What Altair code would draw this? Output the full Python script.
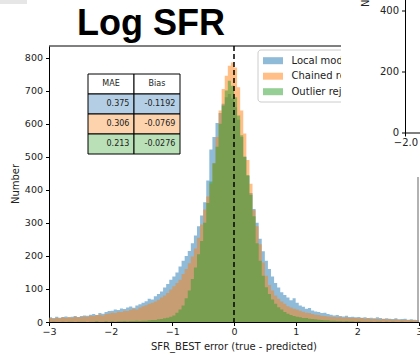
import altair as alt
import pandas as pd

# ---------------- data ----------------
BIN_START = -3.0
BIN_WIDTH = 0.05
series_names = ["Local model", "Chained regression", "Outlier rejection"]
series_colors = ["#1f77b4", "#ff7f0e", "#2ca02c"]

local_model = [
    14, 12, 16, 13, 15, 17, 14, 16, 18, 15,
    18, 20, 19, 22, 24, 21, 27, 25, 30, 33,
    34, 38, 36, 41, 39, 44, 47, 43, 50, 54,
    58, 63, 70, 68, 78, 85, 92, 104, 115, 128,
    138, 150, 168, 185, 200, 215, 238, 262, 290, 322,
    362, 428, 522, 560, 602, 632, 660, 680, 690, 676,
    650, 612, 560, 500, 442, 390, 342, 300, 252, 214,
    185, 160, 138, 118, 104, 90, 82, 74, 66, 72,
    58, 50, 46, 40, 42, 35, 32, 30, 27, 28,
    24, 22, 20, 21, 18, 17, 19, 15, 16, 14,
    15, 13, 14, 12, 13, 11, 14, 12, 10, 11,
    10, 9, 11, 8, 9, 10, 7, 8, 7, 6,
]
chained_regression = [
    12, 10, 13, 11, 14, 12, 15, 13, 16, 14,
    15, 17, 16, 19, 18, 21, 22, 20, 24, 26,
    28, 27, 31, 30, 34, 33, 37, 40, 38, 44,
    48, 51, 55, 58, 62, 67, 74, 80, 88, 98,
    108, 118, 128, 145, 160, 178, 198, 222, 255, 295,
    340, 380, 418, 480, 560, 640, 705, 745, 775, 785,
    770, 710, 640, 570, 490, 418, 338, 290, 235, 180,
    140, 112, 95, 80, 70, 62, 55, 48, 44, 40,
    38, 34, 31, 28, 27, 24, 22, 21, 19, 18,
    17, 16, 15, 14, 15, 13, 14, 12, 13, 12,
    11, 12, 10, 11, 9, 10, 9, 8, 9, 8,
    8, 7, 8, 7, 6, 7, 6, 6, 5, 5,
]
outlier_rejection = [
    0, 1, 0, 0, 1, 0, 1, 1, 0, 1,
    1, 1, 0, 1, 1, 2, 1, 1, 2, 1,
    2, 1, 2, 2, 3, 2, 3, 3, 4, 3,
    4, 4, 5, 6, 6, 8, 9, 11, 13, 16,
    20, 28, 38, 50, 72, 95, 130, 165, 205, 245,
    300, 360, 425, 480, 530, 600, 655, 700, 730, 715,
    680, 625, 565, 500, 445, 385, 320, 238, 185, 140,
    105, 85, 68, 55, 45, 38, 30, 25, 21, 18,
    16, 14, 12, 12, 10, 9, 8, 7, 6, 5,
    5, 4, 4, 3, 3, 2, 3, 2, 2, 1,
    2, 1, 1, 1, 1, 0, 1, 1, 0, 1,
    0, 1, 0, 0, 1, 0, 0, 1, 0, 0,
]

table_header = ["MAE", "Bias"]
table_mae = ["0.375", "0.306", "0.213"]
table_bias = ["-0.1192", "-0.0769", "-0.0276"]
table_colors = ["#b4cfe5", "#fdd3ae", "#b9e0b6"]

x_ticks = [-3, -2, -1, 0, 1, 2, 3]
y_ticks = [0, 100, 200, 300, 400, 500, 600, 700, 800]
title_text = "Log SFR"
x_title = "SFR_BEST error (true - predicted)"
y_title = "Number"
side_y_ticks = ["400", "200", "0"]
side_x_tick = "\u22122.0"

# ---------------- layout (absolute px) ----------------
L, T, W, H = 49, 46, 370, 276
ONE = pd.DataFrame({"k": [0]})
TICK_FONT = "DejaVu Sans"


def px(x):
    return x - L


def py(y):
    return y - T


def rect(x1, y1, x2, y2, **kw):
    return alt.Chart(ONE).mark_rect(**kw).encode(
        x=alt.value(px(x1)), x2=alt.value(px(x2)),
        y=alt.value(py(y1)), y2=alt.value(py(y2)))


def line(x1, y1, x2, y2, **kw):
    return alt.Chart(ONE).mark_rule(**kw).encode(
        x=alt.value(px(x1)), x2=alt.value(px(x2)),
        y=alt.value(py(y1)), y2=alt.value(py(y2)))


def label(s, x, y, **kw):
    kw.setdefault("font", TICK_FONT)
    return alt.Chart(ONE).mark_text(**kw).encode(
        x=alt.value(px(x)), y=alt.value(py(y)), text=alt.value(s))


# ---------------- histogram ----------------
rows = []
for name, counts in zip(series_names, [local_model, chained_regression, outlier_rejection]):
    for i, c in enumerate(counts):
        rows.append({"series": name, "x": round(BIN_START + i * BIN_WIDTH, 4), "count": c})
    rows.append({"series": name, "x": round(BIN_START + len(counts) * BIN_WIDTH, 4), "count": counts[-1]})
hist_df = pd.DataFrame(rows)

x_enc = alt.X("x:Q", scale=alt.Scale(domain=[-3, 3], nice=False, zero=False),
              axis=alt.Axis(values=x_ticks, format="d", title=None, labelFlush=False,
                            labelOverlap=False, tickSize=3.5, labelPadding=1))
y_enc = alt.Y("count:Q", stack=None, scale=alt.Scale(domain=[0, 835], nice=False),
              axis=alt.Axis(values=y_ticks, title=None, tickSize=3.5, labelPadding=3,
                            labelOverlap=False))

layers = []
for name, color in zip(series_names, series_colors):
    layers.append(
        alt.Chart(hist_df).transform_filter(alt.datum.series == name)
        .mark_area(interpolate="step-after", opacity=0.5, color=color, clip=True)
        .encode(x=x_enc, y=y_enc)
    )

# dashed zero line
layers.append(
    alt.Chart(pd.DataFrame({"x": [0.0]})).mark_rule(color="black", strokeDash=[5, 3], strokeWidth=1.5)
    .encode(x=x_enc)
)

# frame pieces
layers.append(line(49, 46, 341, 46, color="black", strokeWidth=1))
layers.append(line(418, 177, 418, 322, color="#999999", strokeWidth=1.5))

# ---------------- table ----------------
col_x = [88, 134, 180]
row_y = [74, 94, 114, 134, 154]
for c in range(2):
    layers.append(rect(col_x[c], row_y[0], col_x[c + 1], row_y[1], fill="white", stroke="black", strokeWidth=1))
    layers.append(label(table_header[c], (col_x[c] + col_x[c + 1]) / 2, (row_y[0] + row_y[1]) / 2,
                        fontSize=8, align="center", baseline="middle", color="#222222"))
for r in range(3):
    vals = [table_mae[r], table_bias[r]]
    for c in range(2):
        layers.append(rect(col_x[c], row_y[r + 1], col_x[c + 1], row_y[r + 2],
                           fill=table_colors[r], stroke="black", strokeWidth=1))
        layers.append(label(vals[c], col_x[c + 1] - 4.6, (row_y[r + 1] + row_y[r + 2]) / 2,
                            fontSize=8, align="right", baseline="middle", color="#222222"))

# ---------------- legend ----------------
layers.append(rect(258, 50, 380, 102, fill="white", fillOpacity=0.8, stroke="#cccccc",
                   strokeWidth=1, cornerRadius=3))
for i, (name, color) in enumerate(zip(series_names, series_colors)):
    yc = 60.7 + 15.5 * i
    layers.append(rect(263, yc - 3.5, 283, yc + 3.5, color=color, opacity=0.5))
    layers.append(label(name, 291.5, yc, fontSize=10, align="left", baseline="middle", color="#222222"))

# ---------------- neighbouring panel (covers the top-right corner) ----------------
layers.append(rect(341, -2, 422, 176, fill="white"))
layers.append(line(405.5, 0, 405.5, 133, color="black", strokeWidth=1))
layers.append(line(405.5, 133, 421, 133, color="black", strokeWidth=1))
for s, yv in zip(side_y_ticks, [11, 72, 133]):
    layers.append(line(402, yv, 405.5, yv, color="black", strokeWidth=1))
    layers.append(label(s, 399, yv, fontSize=10, align="right", baseline="middle", color="#222222"))
layers.append(line(405.5, 133, 405.5, 136.5, color="black", strokeWidth=1))
layers.append(label(side_x_tick, 406, 138, fontSize=10, align="center", baseline="top", color="#222222"))
layers.append(label(y_title, 369, 7, fontSize=10, angle=270, align="left", baseline="alphabetic",
                    color="#222222"))

# top-left grey patch
layers.append(rect(0, -1, 27, 4, fill="#e6e6e6"))

# ---------------- titles ----------------
layers.append(label(title_text, 151, 35, fontSize=36, fontWeight="bold", font="Liberation Sans",
                    align="center", baseline="alphabetic", color="black"))
layers.append(label(x_title, 234, 350, fontSize=10, align="center", baseline="alphabetic", color="#222222"))
layers.append(label(y_title, 18.5, 184, fontSize=10, angle=270, align="center", baseline="alphabetic",
                    color="#222222"))

chart = alt.layer(*layers).properties(
    width=W, height=H,
    autosize=alt.AutoSizeParams(type="none"),
    padding={"left": L, "top": T, "right": 1, "bottom": 31},
).configure_view(stroke=None).configure_axis(
    grid=False, labelFont=TICK_FONT, labelFontSize=9.5, labelColor="#222222",
    domainColor="black", tickColor="black", domainWidth=1, tickWidth=1,
)

chart.save("out.html", embed_options={"renderer": "svg", "actions": False})
